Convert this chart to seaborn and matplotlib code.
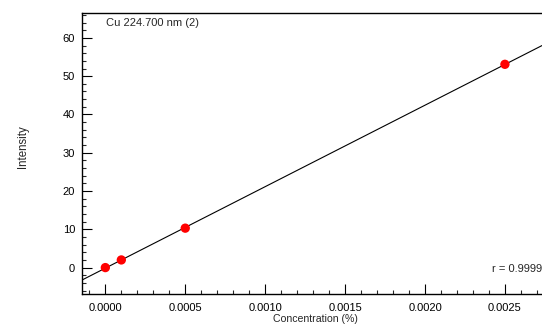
import numpy as np
import pandas as pd
import matplotlib
matplotlib.use("Agg")
import matplotlib.pyplot as plt
import seaborn as sns
from matplotlib.ticker import MultipleLocator, FormatStrFormatter

concentration = [0.0, 0.0001, 0.0005, 0.0025]
intensity = [0.0, 2.0, 10.3, 53.1]
title_text = "Cu 224.700 nm (2)"
r_text = "r = 0.99999"

df = pd.DataFrame({"Concentration (%)": concentration, "Intensity": intensity})

sns.set_style("white")
plt.rcParams['font.family'] = ['Liberation Sans', 'DejaVu Sans']

fig = plt.figure(figsize=(5.42, 3.27), dpi=100)
ax = fig.add_axes([0.1513, 0.1009, 0.8487, 0.8593])

ax.set_xlim(-0.000146, 0.002732)
ax.set_ylim(-6.9, 66.5)

sns.regplot(data=df, x="Concentration (%)", y="Intensity", ax=ax, ci=None,
            truncate=False, scatter=False,
            line_kws=dict(color="black", lw=0.8, zorder=2))
sns.scatterplot(data=df, x="Concentration (%)", y="Intensity", ax=ax,
                color="#ff0000", s=45, edgecolor="none", zorder=3)

ax.set_xlim(-0.000146, 0.002732)
ax.set_ylim(-6.9, 66.5)

ax.xaxis.set_major_locator(MultipleLocator(0.0005))
ax.xaxis.set_minor_locator(MultipleLocator(0.0001))
ax.xaxis.set_major_formatter(FormatStrFormatter("%.4f"))
ax.yaxis.set_major_locator(MultipleLocator(10))
ax.yaxis.set_minor_locator(MultipleLocator(2))

ax.tick_params(axis="both", which="major", direction="in", length=7, width=0.8,
               labelsize=8, colors="black")
ax.tick_params(axis="x", which="major", pad=6.5)
ax.tick_params(axis="y", which="major", pad=5)
ax.tick_params(axis="both", which="minor", direction="in", length=3, width=0.8)
ax.tick_params(bottom=True, left=True, which="both")

for s in ["left", "bottom", "top"]:
    ax.spines[s].set_visible(True)
    ax.spines[s].set_color("black")
    ax.spines[s].set_linewidth(1.0)
ax.spines["right"].set_visible(False)

ax.set_xlabel("Concentration (%)", fontsize=7.6, labelpad=0)
ax.xaxis.set_label_coords(0.5065, -0.089)
ax.xaxis.label.set_va("center")
ax.set_ylabel("Intensity", fontsize=8.3)
ax.yaxis.set_label_coords(-0.115, 0.525)

ax.text(0.052, 0.983, title_text, transform=ax.transAxes, fontsize=8,
        ha="left", va="top")
ax.text(0.892, 0.09, r_text, transform=ax.transAxes, fontsize=8,
        ha="left", va="center")

fig.savefig("out.png", dpi=100)
